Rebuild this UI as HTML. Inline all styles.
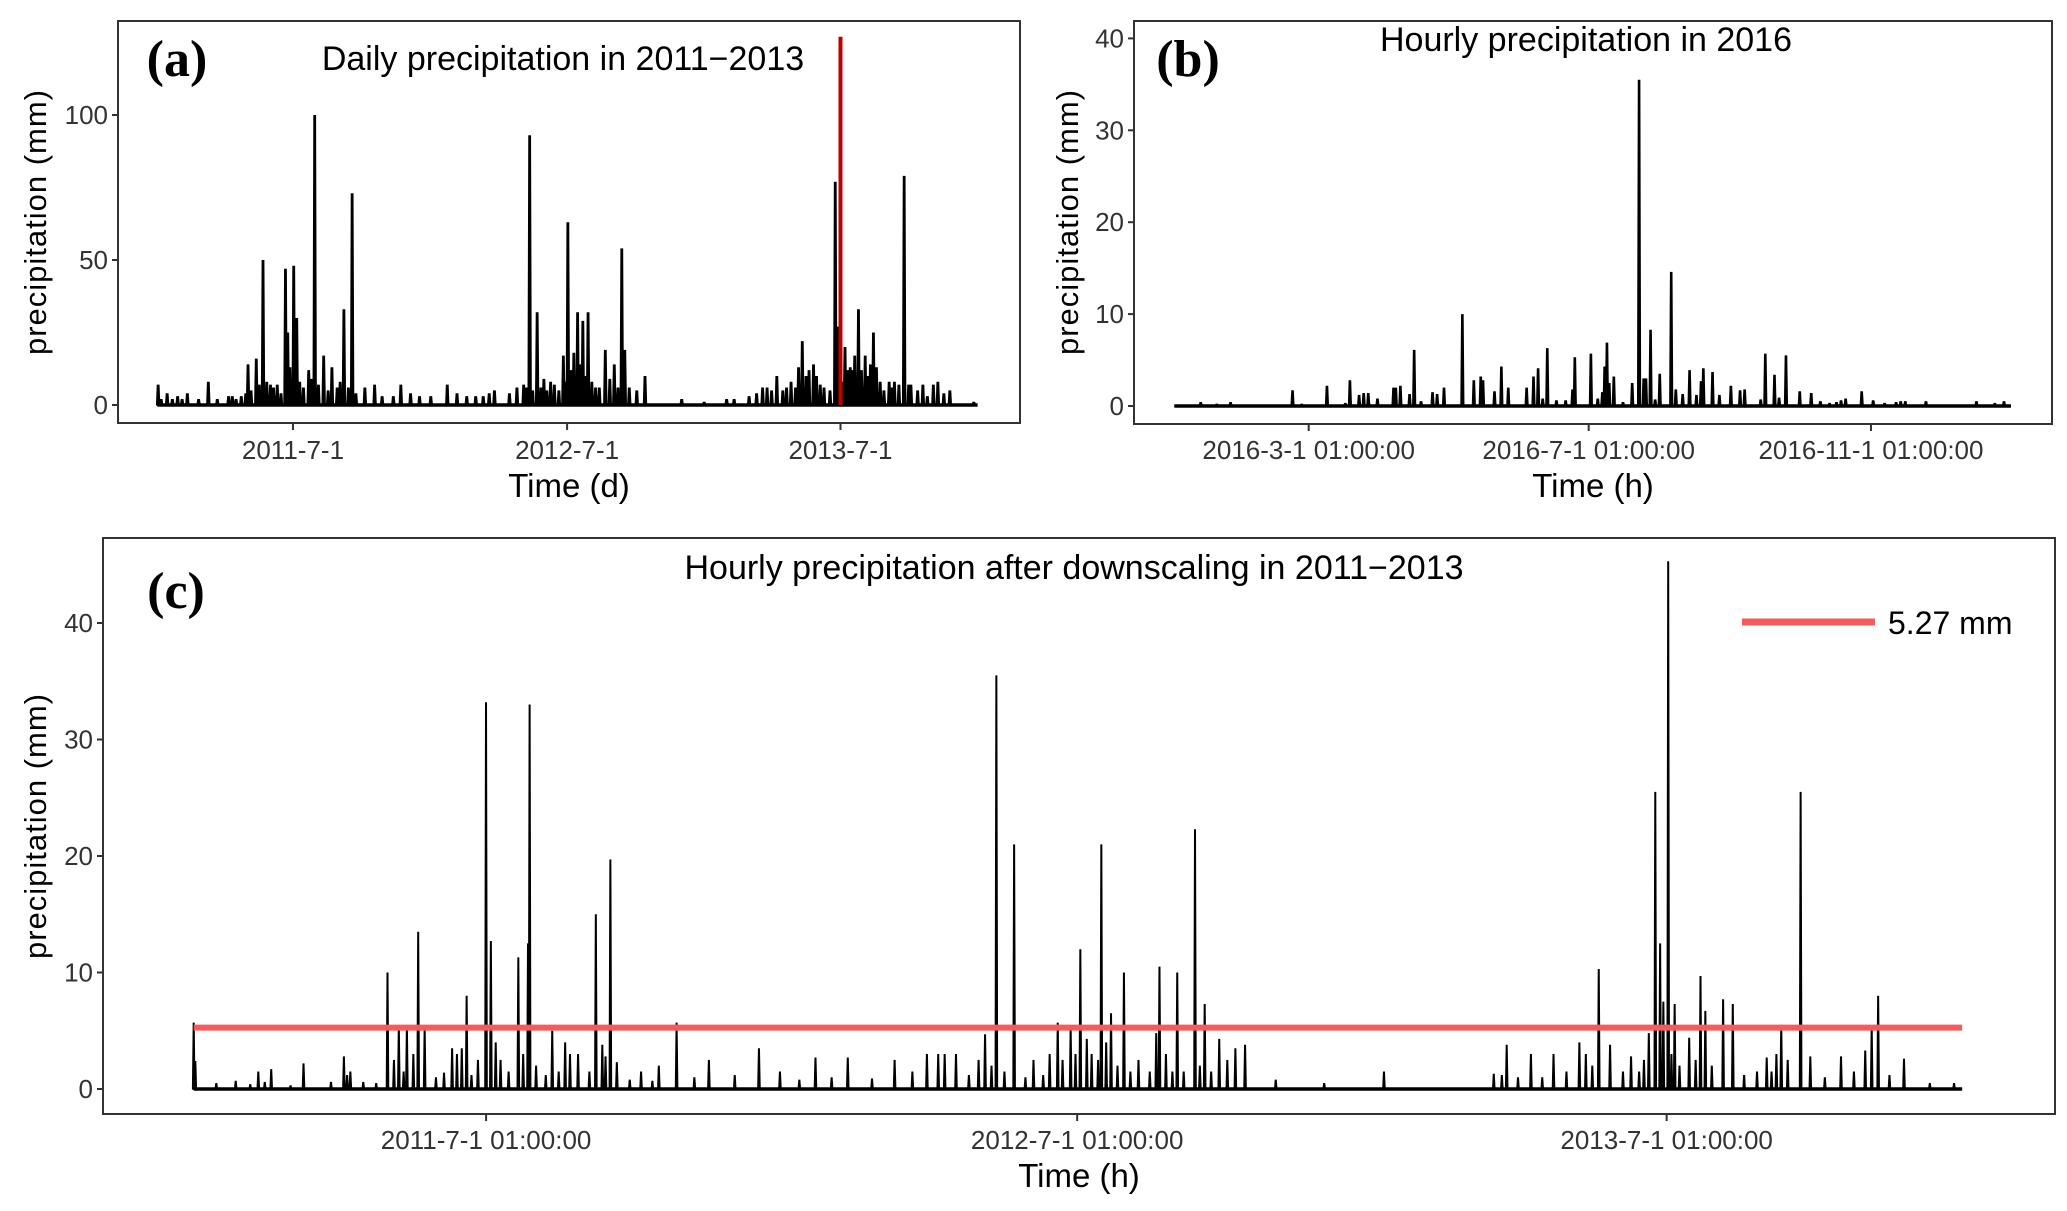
<!DOCTYPE html>
<html><head><meta charset="utf-8"><style>
html,body{margin:0;padding:0;background:#fff}
svg{display:block}
text{font-family:"Liberation Sans",sans-serif;fill:#000}
.tick{font-size:26px;fill:#333}
.ttl{font-size:33px}
.tag{font-family:"Liberation Serif",serif;font-weight:bold;font-size:52px}
</style></head><body>
<svg id="fig" width="2067" height="1211" viewBox="0 0 2067 1211" xmlns="http://www.w3.org/2000/svg">
<g id="pa"></g>
<g id="pb"></g>
<g id="pc"></g>
</svg>
<script>
// Panel a: daily precipitation, days since 2011-1-1
const aDays=[1,5,13,20,27,33,40,55,68,80,95,100,105,112,118,121,125,132,136,141,146,151,155,160,165,171,174,177,182,186,190,195,202,206,210,215,222,228,233,240,244,249,255,260,265,277,290,300,315,325,338,350,365,387,400,413,425,435,443,450,470,480,489,493,497,501,507,512,516,520,525,530,536,542,545,548,552,556,561,565,568,572,575,580,585,590,598,604,610,615,620,624,630,640,651,700,730,760,770,790,800,808,814,820,827,835,840,846,852,856,861,866,870,876,880,885,890,898,905,908,915,918,922,925,928,931,936,940,945,948,952,956,960,965,970,977,980,984,990,997,1003,1006,1015,1022,1028,1036,1042,1050,1058,1090];
const aVals=[7,2,4,2,3,2,4,2,8,2,3,3,2,3,4,14,5,16,7,50,8,7,6,7,4,47,25,13,48,30,8,6,12,9,100,7,17,5,13,6,8,33,6,73,4,6,7,3,3,7,4,3,3,7,4,3,3,3,4,5,4,6,7,6,93,5,32,6,9,5,8,7,5,17,8,63,12,18,32,14,29,10,32,8,6,6,19,9,14,6,54,19,6,5,10,2,1,2,2,3,4,6,6,5,10,5,6,8,6,13,22,10,12,14,10,7,6,5,77,27,8,20,12,13,12,17,33,12,17,10,14,25,13,8,5,8,6,8,7,79,7,7,5,7,3,7,8,4,5,1];
const aRedDay=[912];
const aRedVal=[127];
const aTicksDay=[181,547,912];
const aTickLabels=["2011-7-1","2012-7-1","2013-7-1"];
const aYTicks=[0,50,100];

// Panel b: hourly precipitation in 2016, day of year
const bDays=[13,20,26,53,57,68,76,78,82,84,86,90,97,98,100,104,106,109,114,116,119,127,132,135,136,141,144,147,155,158,160,162,164,168,172,175,176,183,186,188,189,190,191,193,197,201,204,206,207,209,211,213,218,220,223,226,229,231,232,236,239,244,248,250,257,259,263,265,268,274,279,283,287,290,292,294,301,306,311,316,318,320,329,351,359,363];
const bVals=[0.4,0.2,0.4,1.7,0.2,2.2,0.3,2.8,1.2,1.4,1.4,0.8,2,2,2.2,1.3,6.1,0.5,1.5,1.3,2,10,2.8,3.2,2.8,1.6,4.3,2,2,3.2,4.1,0.8,6.3,0.6,0.6,1.8,5.3,5.7,0.8,1.5,4.3,6.9,2.5,3.2,0.4,2.5,35.5,3,3,8.3,0.7,3.5,14.6,1.8,1.3,3.9,1.2,2.7,4.1,3.7,1.2,2.2,1.7,1.8,0.7,5.7,3.4,0.9,5.5,1.6,1.4,0.5,0.3,0.4,0.6,0.8,1.6,0.6,0.3,0.4,0.5,0.5,0.5,0.5,0.3,0.5];
const bTicksDay=[60.04,182.04,305.04];
const bTickLabels=["2016-3-1 01:00:00","2016-7-1 01:00:00","2016-11-1 01:00:00"];
const bYTicks=[0,10,20,30,40];

// Panel c: hourly after downscaling, days since 2011-1-1
const cDays=[0,1,14,26,35,40,44,48,60,68,85,93,95,97,105,113,120,124,127,130,132,136,139,143,150,155,160,163,166,169,172,176,181,184,187,190,195,201,204,208,207,212,218,222,226,230,233,238,245,249,253,255,258,262,270,277,284,288,299,310,319,335,350,363,375,385,395,405,420,434,445,454,461,465,472,480,486,490,494,497,502,508,515,520,526,530,535,538,543,546,549,553,556,560,562,565,568,572,576,580,585,592,596,598,602,606,609,613,620,623,626,630,635,640,645,651,670,700,737,805,810,813,820,828,835,842,850,858,862,866,870,877,885,890,895,898,901,905,908,910,913,915,917,920,926,930,933,936,940,947,953,960,968,974,977,980,983,987,995,1001,1010,1020,1028,1035,1039,1043,1050,1059,1075,1090];
const cVals=[5.7,2.4,0.5,0.7,0.4,1.5,0.6,1.7,0.3,2.2,0.6,2.8,1.2,1.5,0.6,0.5,10,2.5,5.3,1.5,5.3,3,13.5,5.3,1,1.4,3.5,3,3.5,8,1.2,2.5,33.2,12.7,4,2.5,1.5,11.3,3,33,12.5,2,1.2,5,1.5,4,3,3,1.5,15,3.8,2.8,19.7,2.3,0.8,1.5,0.7,2,5.7,1,2.5,1.2,3.5,1.5,0.8,2.7,1,2.7,0.9,2.5,1.5,3,3,3,3,1.2,2.5,4.7,2,35.5,1.5,21,1,2.5,1.2,3,5.7,2.5,5.3,3,12,4.3,3,2.5,21,4,6.5,2,10,1.5,2.5,1.5,4.8,10.5,3,1.5,10,1.5,22.3,2,7.3,1.5,4.3,2.5,3.5,3.8,0.8,0.5,1.5,1.3,1.2,3.8,1,3,1,3,1.5,4,3,2,10.3,3.8,1.5,2.8,1.5,2.5,4.8,25.5,12.5,7.5,45.3,3,7.3,2,4.4,2.5,9.7,6.7,2,7.7,7.3,1.2,1.5,2.7,1.5,3,5.5,2.5,25.5,2.8,1,2.8,1.5,3.3,5.4,8,1.2,2.6,0.5,0.5];
const cThreshold=[5.27];
const cTicksDay=[181.04,547.04,912.04];
const cTickLabels=["2011-7-1 01:00:00","2012-7-1 01:00:00","2013-7-1 01:00:00"];
const cYTicks=[0,10,20,30,40];

const NS="http://www.w3.org/2000/svg";
function mk(parent,tag,attrs,txt){const e=document.createElementNS(NS,tag);for(const k in attrs)e.setAttribute(k,attrs[k]);if(txt!==undefined)e.textContent=txt;parent.appendChild(e);return e;}

function panel(g,cfg){
  const X=d=>cfg.x0+d*cfg.kx, Y=v=>cfg.y0-v*cfg.ky;
  const box=mk(g,'rect',{x:cfg.bx,y:cfg.by,width:cfg.bw,height:cfg.bh,fill:'none',stroke:'#333','stroke-width':2});
  
  
  cfg.yt.forEach(v=>{
    const l=mk(g,'line',{x1:cfg.bx-6,x2:cfg.bx,y1:Y(v),y2:Y(v),stroke:'#333','stroke-width':2});
    
    
    const t=mk(g,'text',{x:cfg.bx-10,y:Y(v)+9,'text-anchor':'end',class:'tick'},String(v));
    
    
  });
  cfg.xt.forEach((d,i)=>{
    const l=mk(g,'line',{x1:X(d),x2:X(d),y1:cfg.by+cfg.bh,y2:cfg.by+cfg.bh+7,stroke:'#333','stroke-width':2});
    
    
    const t=mk(g,'text',{x:X(d),y:cfg.tly,'text-anchor':'middle',class:'tick'},cfg.xl[i]);
    
    
  });
  let p='M'+X(cfg.d0)+','+Y(0);
  const idx=cfg.days.map((d,i)=>i).sort((a,b)=>cfg.days[a]-cfg.days[b]);
  idx.forEach(i=>{const x=X(cfg.days[i]);p+=' L'+(x-0.8)+','+Y(0)+' L'+x+','+Y(cfg.vals[i])+' L'+(x+0.8)+','+Y(0);});
  p+=' L'+X(cfg.d1)+','+Y(0);
  const s=mk(g,'path',{d:p,fill:'none',stroke:'#000','stroke-width':cfg.sw,'stroke-linejoin':'miter','stroke-miterlimit':1});
  
  
  const b=mk(g,'line',{x1:X(cfg.d0),x2:X(cfg.d1),y1:Y(0),y2:Y(0),stroke:'#000','stroke-width':3.5});
  
  
  const t1=mk(g,'text',{x:cfg.tx,y:cfg.ty,'text-anchor':'middle',style:'font-size:'+cfg.tfs+'px'},cfg.title);
  
  
  const t2=mk(g,'text',{x:cfg.tagx,y:cfg.tagy,'text-anchor':'middle',class:'tag'},cfg.tag);
  
  
  const t3=mk(g,'text',{x:cfg.bx+cfg.bw/2,y:cfg.xty,'text-anchor':'middle',class:'ttl'},cfg.xtitle);
  
  
  const t4=mk(g,'text',{x:0,y:0,'text-anchor':'middle',class:'ttl',transform:'translate('+cfg.ytx+','+cfg.yty+') rotate(-90)',style:'letter-spacing:1px;font-size:31px'},'precipitation (mm)');
  
  
  return {X,Y};
}

const A=panel(document.getElementById('pa'),{bx:118,by:21,bw:902,bh:402,x0:157.4,kx:0.749,y0:405,ky:2.9,
  yt:aYTicks,xt:aTicksDay,xl:aTickLabels,days:aDays,vals:aVals,d0:0,d1:1095,sw:2.8,tly:459,
  title:'Daily precipitation in 2011\u22122013',tx:563,ty:70,tfs:34,tag:'(a)',tagx:177,tagy:76,xtitle:'Time (d)',xty:497,ytx:46,yty:222});
const ga=document.getElementById('pa');
aRedDay.forEach((d,i)=>{
  const r=mk(ga,'line',{x1:A.X(d),x2:A.X(d),y1:A.Y(0),y2:A.Y(aRedVal[i]),stroke:'#c00000','stroke-width':4});
  
  
});

panel(document.getElementById('pb'),{bx:1134,by:21,bw:918,bh:403,x0:1170.9,kx:2.295,y0:406,ky:9.19,
  yt:bYTicks,xt:bTicksDay,xl:bTickLabels,days:bDays,vals:bVals,d0:1.5,d1:366,sw:2.6,tly:459,
  title:'Hourly precipitation in 2016',tx:1586,ty:51,tfs:34,tag:'(b)',tagx:1188,tagy:76,xtitle:'Time (h)',xty:497,ytx:1078,yty:222});

const C=panel(document.getElementById('pc'),{bx:103,by:538,bw:1952,bh:576,x0:193.7,kx:1.615,y0:1089,ky:11.65,
  yt:cYTicks,xt:cTicksDay,xl:cTickLabels,days:cDays,vals:cVals,d0:0,d1:1095,sw:2,tly:1149,
  title:'Hourly precipitation after downscaling in 2011\u22122013',tx:1074,ty:579,tfs:34,tag:'(c)',tagx:176,tagy:608,xtitle:'Time (h)',xty:1187,ytx:46,yty:826});
const gc=document.getElementById('pc');
const th=mk(gc,'line',{x1:C.X(0),x2:C.X(1095),y1:C.Y(cThreshold[0]),y2:C.Y(cThreshold[0]),stroke:'#f25c5c','stroke-width':6});


const ll=mk(gc,'line',{x1:1742,x2:1875,y1:622,y2:622,stroke:'#f25c5c','stroke-width':7});


const lt=mk(gc,'text',{x:1888,y:634,style:'font-size:32px'},cThreshold[0]+' mm');


</script>
</body></html>
